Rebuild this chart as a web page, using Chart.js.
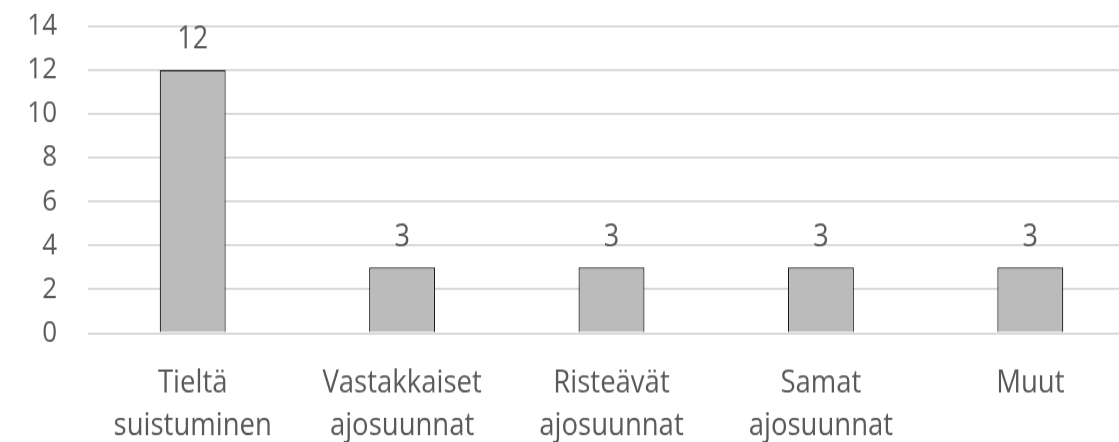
<!DOCTYPE html>
<html>
<head>
<meta charset="utf-8">
<script src="https://cdn.jsdelivr.net/npm/chart.js@4.4.0/dist/chart.umd.min.js"></script>
<style>
  html, body { margin: 0; padding: 0; background: #ffffff; overflow: hidden; width: 1119px; height: 442px; }
  #wrap { width: 1135px; height: 384px; position: relative; transform: scaleY(1.151); transform-origin: 0 0; }
</style>
</head>
<body>
<div id="wrap"><canvas id="c"></canvas></div>
<script>
const categories = [
  ["Tieltä", "suistuminen"],
  ["Vastakkaiset", "ajosuunnat"],
  ["Risteävät", "ajosuunnat"],
  ["Samat", "ajosuunnat"],
  ["Muut"]
];
const values = [12, 3, 3, 3, 3];
const yTicks = [0, 2, 4, 6, 8, 10, 12, 14];

const FONT = "'Open Sans', 'Noto Sans', sans-serif";
const TEXT = "#595959";

const valueLabels = {
  id: 'valueLabels',
  afterDatasetsDraw(chart) {
    const ctx = chart.ctx;
    const meta = chart.getDatasetMeta(0);
    ctx.save();
    ctx.font = "27px " + FONT;
    ctx.fillStyle = TEXT;
    ctx.textAlign = 'center';
    ctx.textBaseline = 'alphabetic';
    meta.data.forEach((bar, i) => {
      ctx.fillText(String(values[i]), bar.x, bar.y - 18.5);
    });
    ctx.restore();
  }
};

new Chart(document.getElementById('c'), {
  type: 'bar',
  data: {
    labels: categories,
    datasets: [{
      data: values,
      backgroundColor: '#BBBBBB',
      borderColor: '#1a1a1a',
      borderWidth: 1.2,
      barPercentage: 0.315,
      categoryPercentage: 1.0
    }]
  },
  options: {
    responsive: true,
    maintainAspectRatio: false,
    animation: false,
    devicePixelRatio: 1,
    layout: { padding: { top: 22.6, right: 0, bottom: 0, left: 0 } },
    plugins: {
      legend: { display: false },
      tooltip: { enabled: false }
    },
    scales: {
      x: {
        grid: { display: false, drawTicks: false },
        border: { display: false },
        ticks: {
          color: TEXT,
          font: { family: FONT, size: 27.5, lineHeight: 1.36 },
          padding: 24.6,
          maxRotation: 0,
          autoSkip: false
        },
        afterFit(scale) { scale.height = 94.5; }
      },
      y: {
        min: 0,
        max: 14,
        afterBuildTicks(scale) { scale.ticks = yTicks.map(v => ({ value: v })); },
        grid: { color: '#D6D6D6', lineWidth: 1.8, drawTicks: false },
        border: { display: false },
        ticks: {
          color: TEXT,
          font: { family: FONT, size: 26 },
          padding: 31
        },
        afterFit(scale) { scale.width = 88; scale.paddingTop = 0; scale.paddingBottom = 0; }
      }
    }
  },
  plugins: [valueLabels]
});
</script>
</body>
</html>
